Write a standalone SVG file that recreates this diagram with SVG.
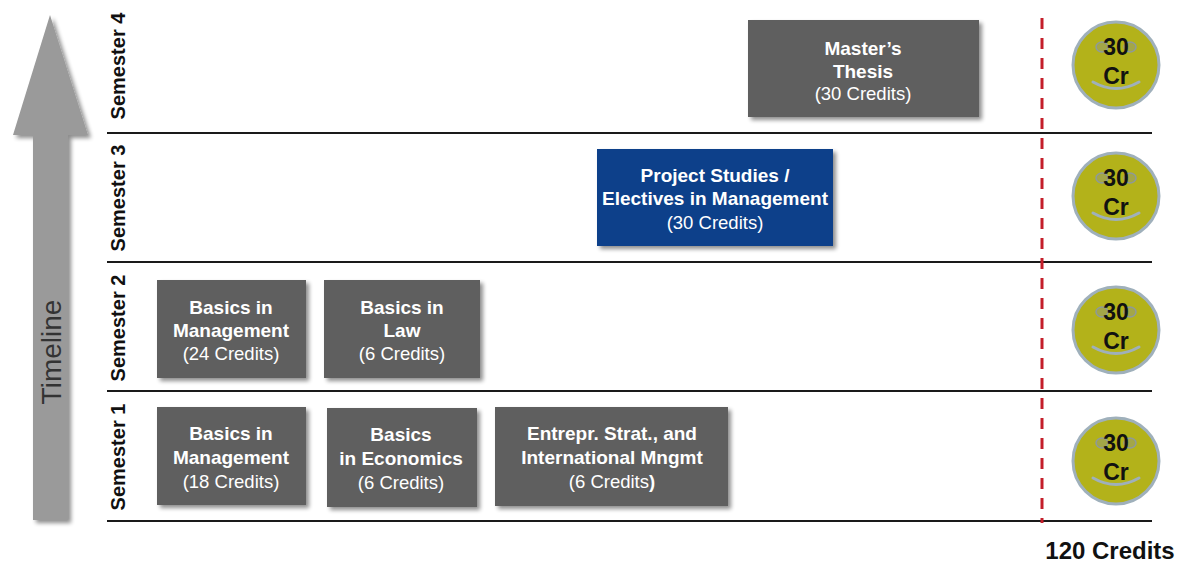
<svg xmlns="http://www.w3.org/2000/svg" width="1181" height="563" viewBox="0 0 1181 563">
<style>
.box{fill:#5e5e5e;}
.blue{fill:#0b408a;}
.bt{font-family:"Liberation Sans",Arial,sans-serif;font-size:19px;font-weight:bold;fill:#ffffff;text-anchor:middle;}
.nt{font-family:"Liberation Sans",Arial,sans-serif;font-size:18.5px;fill:#ffffff;text-anchor:middle;}
.sem{font-family:"Liberation Sans",Arial,sans-serif;font-size:20px;font-weight:bold;fill:#111;text-anchor:middle;}
.cr{font-family:"Liberation Sans",Arial,sans-serif;font-size:23px;font-weight:bold;fill:#111;text-anchor:middle;}
.row{stroke:#1a1a1a;stroke-width:2;}
</style>
<defs>
<filter id="sh" x="-10%" y="-10%" width="130%" height="130%">
<feGaussianBlur in="SourceAlpha" stdDeviation="2"/>
<feOffset dx="3" dy="3" result="b"/>
<feComponentTransfer><feFuncA type="linear" slope="0.45"/></feComponentTransfer>
<feMerge><feMergeNode/><feMergeNode in="SourceGraphic"/></feMerge>
</filter>
<g id="smiley">
<circle cx="0" cy="0" r="43" fill="#b3b21a" stroke="#9fb0bb" stroke-width="3"/>
<ellipse cx="-14" cy="-18" rx="6" ry="5" fill="#a3a648" stroke="#8e9a9a" stroke-width="1.5"/>
<ellipse cx="14" cy="-18" rx="6" ry="5" fill="#a3a648" stroke="#8e9a9a" stroke-width="1.5"/>
<path d="M -23 17 Q 0 30 23 17" fill="none" stroke="#9fb0bb" stroke-width="3" stroke-linecap="round"/>
<text class="cr" x="0" y="-10">30</text>
<text class="cr" x="0" y="19">Cr</text>
</g>
</defs>
<rect width="1181" height="563" fill="#ffffff"/>

<g id="timeline-arrow">
<polygon points="50,15 88,135 68,135 68,520 33,520 33,135 13,135" fill="#9a9a9a" filter="url(#sh)"/>
<text x="0" y="0" transform="translate(61,352) rotate(-90)" font-family="Liberation Sans,Arial,sans-serif" font-size="28" fill="#333" text-anchor="middle">Timeline</text>
</g>

<g id="connectors">
<line class="row" x1="107" y1="133" x2="1152" y2="133"/>
<line class="row" x1="107" y1="262" x2="1152" y2="262"/>
<line class="row" x1="107" y1="391" x2="1152" y2="391"/>
<line class="row" x1="107" y1="521" x2="1152" y2="521"/>
<line x1="1042" y1="18" x2="1042" y2="523" stroke="#c41e2a" stroke-width="3" stroke-dasharray="11 9"/>
</g>

<g id="semester-labels">
<text class="sem" transform="translate(125,66) rotate(-90)">Semester 4</text>
<text class="sem" transform="translate(125,198) rotate(-90)">Semester 3</text>
<text class="sem" transform="translate(125,328) rotate(-90)">Semester 2</text>
<text class="sem" transform="translate(125,457) rotate(-90)">Semester 1</text>
</g>

<g id="masters-thesis">
<rect class="box" x="748" y="20" width="231" height="97" filter="url(#sh)"/>
<text class="bt" x="863" y="55">Master’s</text>
<text class="bt" x="863" y="78">Thesis</text>
<text class="nt" x="863" y="100">(30 Credits)</text>
</g>

<g id="project-studies">
<rect class="blue" x="597" y="149" width="236" height="97" filter="url(#sh)"/>
<text class="bt" x="715" y="182">Project Studies /</text>
<text class="bt" x="715" y="205">Electives in Management</text>
<text class="nt" x="715" y="229">(30 Credits)</text>
</g>

<g id="basics-management-24">
<rect class="box" x="157" y="280" width="149" height="98" filter="url(#sh)"/>
<text class="bt" x="231" y="314">Basics in</text>
<text class="bt" x="231" y="337">Management</text>
<text class="nt" x="231" y="360">(24 Credits)</text>
</g>

<g id="basics-law">
<rect class="box" x="324" y="280" width="156" height="98" filter="url(#sh)"/>
<text class="bt" x="402" y="314">Basics in</text>
<text class="bt" x="402" y="337">Law</text>
<text class="nt" x="402" y="360">(6 Credits)</text>
</g>

<g id="basics-management-18">
<rect class="box" x="157" y="407" width="149" height="98" filter="url(#sh)"/>
<text class="bt" x="231" y="440">Basics in</text>
<text class="bt" x="231" y="464">Management</text>
<text class="nt" x="231" y="488">(18 Credits)</text>
</g>

<g id="basics-economics">
<rect class="box" x="327" y="408" width="150" height="99" filter="url(#sh)"/>
<text class="bt" x="401" y="441">Basics</text>
<text class="bt" x="401" y="465">in Economics</text>
<text class="nt" x="401" y="489">(6 Credits)</text>
</g>

<g id="entrepr-strat">
<rect class="box" x="495" y="407" width="233" height="99" filter="url(#sh)"/>
<text class="bt" x="612" y="440">Entrepr. Strat., and</text>
<text class="bt" x="612" y="464">International  Mngmt</text>
<text class="nt" x="612" y="488">(6 Credits<tspan font-weight="bold">)</tspan></text>
</g>

<g id="credits-4"><use href="#smiley" x="1116" y="65"/></g>
<g id="credits-3"><use href="#smiley" x="1116" y="196"/></g>
<g id="credits-2"><use href="#smiley" x="1116" y="330"/></g>
<g id="credits-1"><use href="#smiley" x="1116" y="461"/></g>

<g id="total">
<text x="1110" y="559" font-family="Liberation Sans,Arial,sans-serif" font-size="24" font-weight="bold" fill="#111" text-anchor="middle">120 Credits</text>
</g>
</svg>
